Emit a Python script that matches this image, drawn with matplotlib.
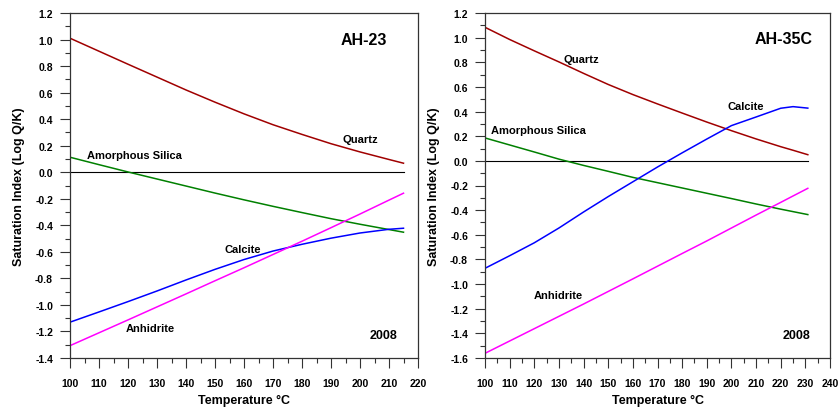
import numpy as np
import matplotlib
matplotlib.use("Agg")
import matplotlib.pyplot as plt
from matplotlib.ticker import MultipleLocator

plt.rcParams['font.family'] = ['Liberation Sans', 'DejaVu Sans']
plt.rcParams['font.weight'] = 'bold'

# AH-23 (left panel)
temp_23 = [100, 110, 120, 130, 140, 150, 160, 170, 180, 190, 200, 210, 215]
quartz_23 = [1.010, 0.912, 0.814, 0.717, 0.620, 0.528, 0.440, 0.358, 0.285, 0.215, 0.153, 0.096, 0.068]
silica_23 = [0.113, 0.057, 0.002, -0.051, -0.104, -0.157, -0.208, -0.257, -0.304, -0.350, -0.392, -0.432, -0.452]
calcite_23 = [-1.13, -1.053, -0.975, -0.895, -0.812, -0.732, -0.658, -0.594, -0.543, -0.497, -0.458, -0.430, -0.422]
anhydrite_23 = [-1.307, -1.210, -1.113, -1.015, -0.917, -0.818, -0.720, -0.620, -0.520, -0.418, -0.315, -0.210, -0.158]

# AH-35C (right panel)
temp_35 = [100, 110, 120, 130, 140, 150, 160, 170, 180, 190, 200, 210, 220, 225, 231]
quartz_35 = [1.084, 0.985, 0.893, 0.803, 0.710, 0.620, 0.538, 0.462, 0.388, 0.315, 0.245, 0.178, 0.115, 0.086, 0.05]
silica_35 = [0.186, 0.129, 0.072, 0.014, -0.037, -0.085, -0.134, -0.177, -0.220, -0.263, -0.306, -0.350, -0.392, -0.412, -0.436]
calcite_35 = [-0.872, -0.77, -0.665, -0.545, -0.415, -0.29, -0.17, -0.05, 0.065, 0.177, 0.286, 0.356, 0.427, 0.44, 0.428]
anhydrite_35 = [-1.562, -1.462, -1.362, -1.262, -1.162, -1.060, -0.958, -0.855, -0.752, -0.650, -0.545, -0.440, -0.337, -0.285, -0.223]

c_quartz = '#A00000'
c_silica = '#008000'
c_calcite = '#0000FF'
c_anh = '#FF00FF'

fig = plt.figure(figsize=(8.38, 4.10), dpi=100)
ax1 = fig.add_axes([70/838, 51/410, 348/838, 345/410])
ax2 = fig.add_axes([485/838, 51/410, 345/838, 345/410])


def style(ax, xmax, ymin):
    ax.set_xlim(100, xmax)
    ax.set_ylim(ymin, 1.2)
    ax.xaxis.set_major_locator(MultipleLocator(10))
    ax.xaxis.set_minor_locator(MultipleLocator(5))
    ax.yaxis.set_major_locator(MultipleLocator(0.2))
    ax.yaxis.set_minor_locator(MultipleLocator(0.1))
    ax.yaxis.set_major_formatter(plt.FuncFormatter(lambda v, p: '%.1f' % v))
    ax.tick_params(which='major', direction='out', length=7.2, width=0.8, labelsize=7.5, color='#333333')
    ax.tick_params(which='minor', direction='out', length=3.6, width=0.8, color='#333333')
    ax.tick_params(axis='x', pad=7)
    ax.tick_params(axis='y', pad=5)
    for s in ax.spines.values():
        s.set_color('#333333')
        s.set_linewidth(0.9)
    ax.set_xlabel('Temperature °C', fontsize=9, fontweight='bold')
    ax.set_ylabel('Saturation Index (Log Q/K)', fontsize=9, fontweight='bold')
    ax.xaxis.set_label_coords(0.5, -0.105)


style(ax1, 220, -1.4)
style(ax2, 240, -1.6)
ax1.yaxis.set_label_coords(-0.13, 0.5)
ax2.yaxis.set_label_coords(-0.13, 0.5)

lw = 1.1
ax1.plot([100, 215], [0, 0], color='black', lw=0.8)
ax1.plot(temp_23, quartz_23, color=c_quartz, lw=lw)
ax1.plot(temp_23, silica_23, color=c_silica, lw=lw)
ax1.plot(temp_23, calcite_23, color=c_calcite, lw=lw)
ax1.plot(temp_23, anhydrite_23, color=c_anh, lw=lw)

ax2.plot([100, 231], [0, 0], color='black', lw=0.8)
ax2.plot(temp_35, quartz_35, color=c_quartz, lw=lw)
ax2.plot(temp_35, silica_35, color=c_silica, lw=lw)
ax2.plot(temp_35, calcite_35, color=c_calcite, lw=lw)
ax2.plot(temp_35, anhydrite_35, color=c_anh, lw=lw)

fs = 8
ax1.text(201.4, 1.0, 'AH-23', fontsize=11.5, fontweight='bold', ha='center', va='center')
ax1.text(200.2, 0.25, 'Quartz', fontsize=fs, ha='center', va='center')
ax1.text(105.9, 0.13, 'Amorphous Silica', fontsize=fs, ha='left', va='center')
ax1.text(159.5, -0.578, 'Calcite', fontsize=fs, ha='center', va='center')
ax1.text(127.7, -1.176, 'Anhidrite', fontsize=fs, ha='center', va='center')
ax1.text(208, -1.23, '2008', fontsize=9, ha='center', va='center')

ax2.text(221.2, 0.99, 'AH-35C', fontsize=11.5, fontweight='bold', ha='center', va='center')
ax2.text(138.9, 0.827, 'Quartz', fontsize=fs, ha='center', va='center')
ax2.text(205.8, 0.448, 'Calcite', fontsize=fs, ha='center', va='center')
ax2.text(102.3, 0.251, 'Amorphous Silica', fontsize=fs, ha='left', va='center')
ax2.text(129.6, -1.088, 'Anhidrite', fontsize=fs, ha='center', va='center')
ax2.text(226.3, -1.413, '2008', fontsize=9, ha='center', va='center')

fig.savefig('out.png', dpi=100)
